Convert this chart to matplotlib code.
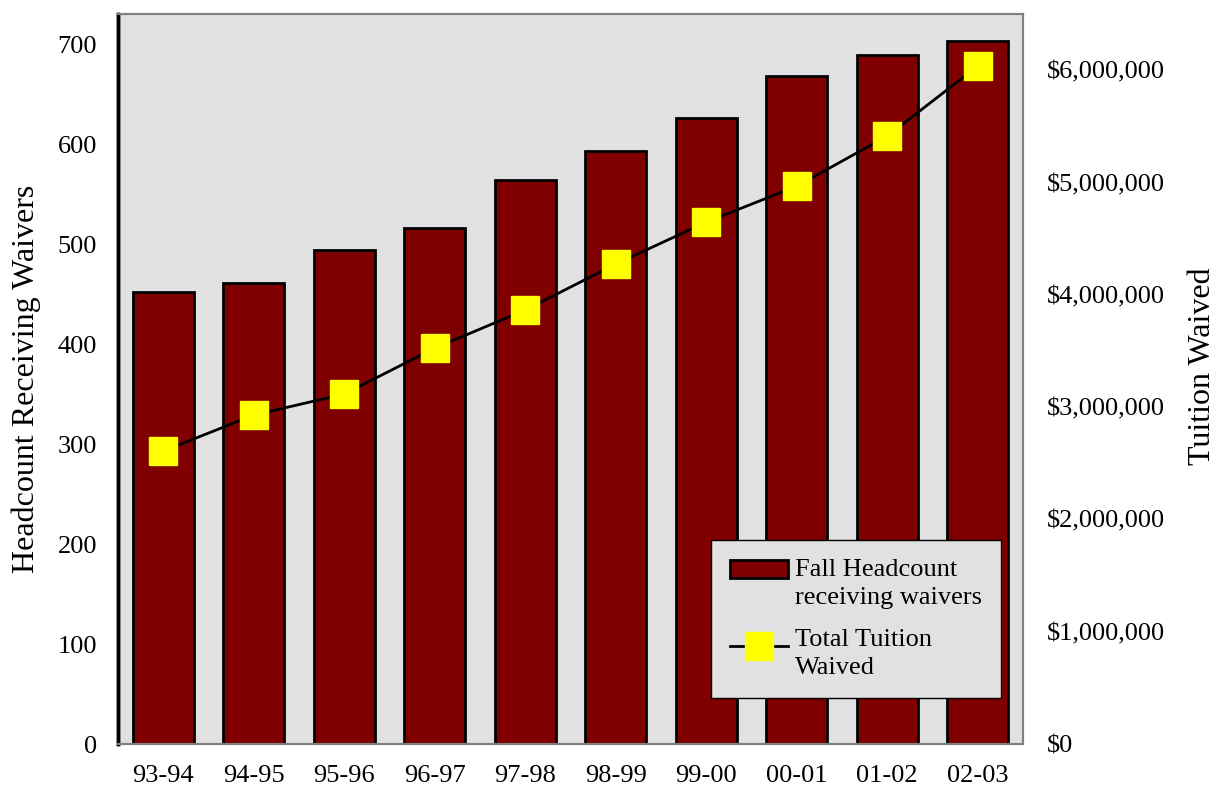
import matplotlib.pyplot as plt
import numpy as np
from matplotlib.legend_handler import HandlerPatch, HandlerLine2D
from matplotlib.lines import Line2D
from matplotlib.patches import Rectangle
from matplotlib.ticker import FuncFormatter

plt.rcParams["font.family"] = ["Liberation Serif", "DejaVu Serif"]

years = ["93-94", "94-95", "95-96", "96-97", "97-98", "98-99", "99-00", "00-01", "01-02", "02-03"]
headcount = [452, 461, 494, 516, 564, 593, 626, 668, 689, 703]
tuition = [2608000, 2929000, 3116000, 3525000, 3864000, 4273000, 4647000, 4967000, 5413000, 6036000]

BAR_COLOR = "#800000"
BG_COLOR = "#e1e1e1"
LEG_FS = 19


# legend keys sit next to the first line of each two-line label
class TopPatch(HandlerPatch):
    def create_artists(self, legend, orig_handle, xdescent, ydescent, width, height, fontsize, trans):
        return super().create_artists(legend, orig_handle, xdescent, ydescent - 0.55 * fontsize,
                                      width, height, fontsize, trans)


class TopLine(HandlerLine2D):
    def create_artists(self, legend, orig_handle, xdescent, ydescent, width, height, fontsize, trans):
        return super().create_artists(legend, orig_handle, xdescent, ydescent - 0.55 * fontsize,
                                      width, height, fontsize, trans)


fig = plt.figure(figsize=(12.25, 7.96), dpi=100)
ax = fig.add_axes([0.0963, 0.0653, 0.7388, 0.9171])
ax2 = ax.twinx()

x = np.arange(len(years))
bars = ax.bar(x, headcount, width=0.67, color=BAR_COLOR, edgecolor="black",
              linewidth=2, label="Fall Headcount\nreceiving waivers", zorder=2)
line, = ax2.plot(x, tuition, color="black", linewidth=2, marker="s", markersize=20,
                 markerfacecolor="#ffff00", markeredgecolor="#ffff00",
                 label="Total Tuition\nWaived", zorder=3)

ax.set_facecolor(BG_COLOR)
ax.set_xlim(-0.5, len(years) - 0.5)
ax.set_ylim(0, 730)
ax.set_yticks(range(0, 701, 100))
ax2.set_ylim(0, 6500000)
ax2.set_yticks(range(0, 6000001, 1000000))
ax2.yaxis.set_major_formatter(FuncFormatter(lambda v, p: f"${v:,.0f}"))

ax.set_xticks(x)
ax.set_xticklabels(years)
ax.tick_params(axis="both", length=0, labelsize=19, pad=15)
ax2.tick_params(axis="both", length=0, labelsize=19, pad=17)

ax.set_ylabel("Headcount Receiving Waivers", fontsize=23, labelpad=12)
ax2.set_ylabel("Tuition Waived", fontsize=23)
ax2.yaxis.set_label_coords(1.182, 0.518)

for a in (ax, ax2):
    for side in ("top", "right", "bottom"):
        a.spines[side].set_color("#808080")
        a.spines[side].set_linewidth(1.5)
    a.spines["left"].set_color("black")
    a.spines["left"].set_linewidth(2.5)

leg = ax2.legend([bars.patches[0], line], [bars.get_label(), line.get_label()],
                 loc="lower right", bbox_to_anchor=(0.9757, 0.063), fontsize=LEG_FS,
                 frameon=True, fancybox=False, facecolor=BG_COLOR, edgecolor="black",
                 framealpha=1, handlelength=2.23, handletextpad=0.25,
                 labelspacing=0.75, borderpad=0.72, borderaxespad=0,
                 handler_map={Rectangle: TopPatch(), Line2D: TopLine()})
leg.get_frame().set_linewidth(1)
for t in leg.get_texts():
    t.set_linespacing(1.35)

fig.savefig("out.png", dpi=100)
